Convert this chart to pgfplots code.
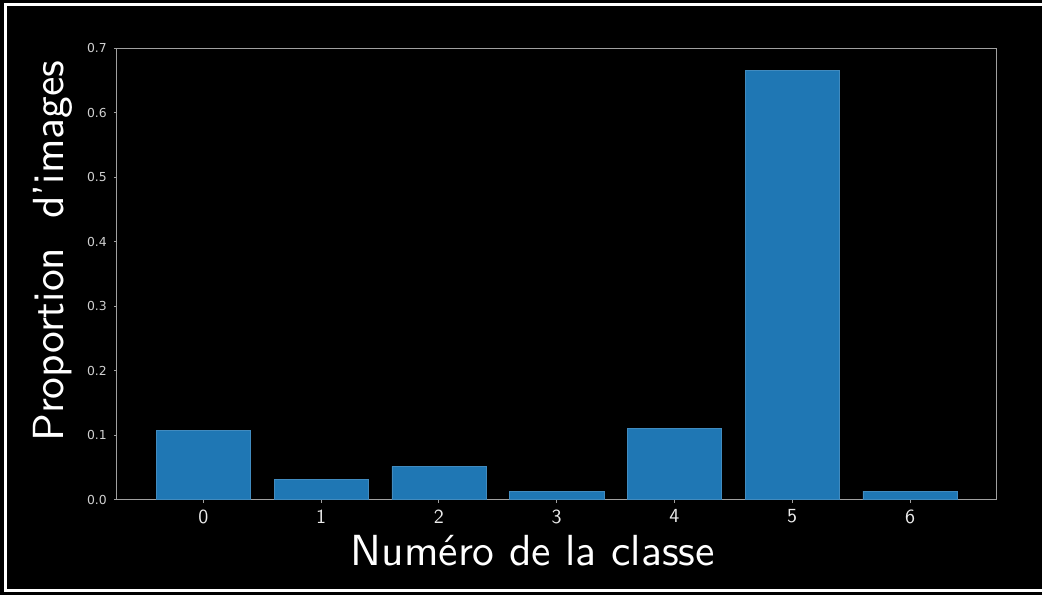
\documentclass[border=0pt]{standalone}
\usepackage{pgfplots}
\pgfplotsset{compat=1.18}
\usepackage{fontspec}
\newfontfamily\dejavu{DejaVu Sans}
\newfontfamily\lmssten{lmsans10-regular.otf}[Ligatures=TeX]
\definecolor{barblue}{HTML}{1F77B4}
\definecolor{spine}{HTML}{A0A0A0}
\definecolor{ticklab}{HTML}{D0D0D0}
\begin{document}
\begin{tikzpicture}[x=0.5pt,y=0.5pt]
\fill[black] (0,0) rectangle (1043,596);
\draw[white,line width=1.5pt] (1043,591.5) -- (5.5,591.5) -- (5.5,4.5) -- (1043,4.5);
\begin{axis}[
  at={(58.5pt,47.75pt)}, anchor=south west,
  scale only axis, width=440.5pt, height=226pt,
  xmin=-0.735, xmax=6.735, ymin=0, ymax=0.7,
  ybar, bar width=0.8, bar shift=0pt,
  xtick={0,1,2,3,4,5,6},
  xticklabels={0,1,2,3,4,5,6},
  ytick={0,0.1,0.2,0.3,0.4,0.5,0.6,0.7},
  xtick pos=bottom, ytick pos=left,
  tick align=outside, major tick length=1.5pt,
  tick style={color=spine, line width=0.5pt},
  axis line style={color=spine, line width=0.5pt},
  /pgf/number format/assume math mode=true,
  yticklabel style={font=\dejavu\fontsize{6.2}{7}\selectfont, color=ticklab,
    /pgf/number format/fixed, /pgf/number format/fixed zerofill,
    /pgf/number format/precision=1},
  xticklabel style={font=\lmssten\fontsize{10}{12}\selectfont, color=white!92!black},
  xlabel={Numéro de la classe},
  ylabel={Proportion\ \ d’images},
  xlabel style={font=\lmssten\fontsize{21.8}{26}\selectfont, white,
    at={(axis description cs:0.4728,-0.146)}, anchor=base},
  ylabel style={font=\lmssten\fontsize{21.8}{26}\selectfont, white,
    at={(axis description cs:-0.0607,0.551)}, anchor=base, rotate=0},
]
\addplot[fill=barblue, draw=barblue!85!white, line width=0.3pt] coordinates {
  (0,0.108) (1,0.031) (2,0.052) (3,0.0125) (4,0.111) (5,0.666) (6,0.0135)
};
\end{axis}
\end{tikzpicture}
\end{document}
